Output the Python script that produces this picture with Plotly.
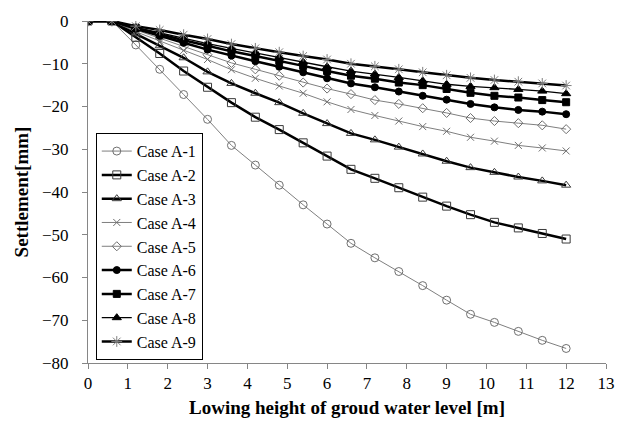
import plotly.graph_objects as go

x_vals = [0, 0.6, 1.2, 1.8, 2.4, 3.0, 3.6, 4.2, 4.8, 5.4, 6.0, 6.6, 7.2, 7.8, 8.4, 9.0, 9.6, 10.2, 10.8, 11.4, 12.0]

case_a1 = [0, 0, -5.6, -11.3, -17.2, -23.0, -29.1, -33.7, -38.4, -43.0, -47.5, -52.0, -55.4, -58.6, -61.9, -65.3, -68.6, -70.5, -72.6, -74.7, -76.6]
case_a2 = [0, 0, -3.8, -7.6, -11.7, -15.5, -19.1, -22.5, -25.4, -28.5, -31.6, -34.7, -36.8, -39.0, -41.2, -43.3, -45.3, -47.1, -48.4, -49.7, -51.0]
case_a3 = [0, 0, -3.0, -5.8, -8.6, -11.9, -14.6, -16.9, -19.1, -21.6, -24.0, -26.3, -27.8, -29.5, -31.1, -32.8, -34.3, -35.4, -36.5, -37.4, -38.4]
case_a4 = [0, 0, -2.5, -4.7, -6.9, -9.0, -11.4, -13.4, -15.2, -16.9, -18.9, -20.7, -22.1, -23.4, -24.7, -25.8, -27.2, -28.1, -29.1, -29.7, -30.4]
case_a5 = [0, 0, -2.1, -4.0, -6.0, -7.9, -9.8, -11.3, -12.8, -14.4, -15.8, -17.1, -18.5, -19.4, -20.4, -21.5, -22.7, -23.4, -23.9, -24.4, -25.3]
case_a6 = [0, 0, -1.8, -3.5, -5.1, -6.7, -8.1, -9.4, -10.7, -12.0, -13.4, -14.6, -15.5, -16.5, -17.5, -18.4, -19.4, -20.2, -20.8, -21.2, -21.8]
case_a7 = [0, 0, -1.6, -3.1, -4.5, -5.8, -7.1, -8.2, -9.3, -10.5, -11.7, -12.8, -13.5, -14.4, -15.0, -15.9, -16.8, -17.5, -17.9, -18.5, -19.0]
case_a8 = [0, 0, -1.5, -2.8, -4.1, -5.3, -6.4, -7.5, -8.5, -9.6, -10.7, -11.7, -12.4, -13.2, -14.0, -14.8, -15.3, -15.6, -16.0, -16.4, -17.0]
case_a9 = [0, 0, -1.2, -2.1, -3.2, -4.2, -5.4, -6.4, -7.3, -8.2, -9.0, -10.0, -10.6, -11.3, -12.0, -12.7, -13.3, -13.8, -14.2, -14.6, -15.1]

names = ["Case A-1", "Case A-2", "Case A-3", "Case A-4", "Case A-5", "Case A-6", "Case A-7", "Case A-8", "Case A-9"]
series = [case_a1, case_a2, case_a3, case_a4, case_a5, case_a6, case_a7, case_a8, case_a9]

styles = [
    dict(lc="#7f7f7f", lw=1, sym="circle-open", mc="#6f6f6f", ms=8),
    dict(lc="#000000", lw=2.5, sym="square-open", mc="#3a3a3a", ms=8),
    dict(lc="#000000", lw=2.5, sym="triangle-up-open", mc="#3a3a3a", ms=8),
    dict(lc="#7f7f7f", lw=1, sym="x-thin-open", mc="#6f6f6f", ms=7),
    dict(lc="#7f7f7f", lw=1, sym="diamond-open", mc="#6f6f6f", ms=7),
    dict(lc="#000000", lw=2.5, sym="circle", mc="#000000", ms=7),
    dict(lc="#000000", lw=2.5, sym="square", mc="#000000", ms=7),
    dict(lc="#000000", lw=1.3, sym="triangle-up", mc="#000000", ms=8),
    dict(lc="#000000", lw=2.5, sym="asterisk-open", mc="#7f7f7f", ms=9),
]

fig = go.Figure()
for name, ys, st in zip(names, series, styles):
    fig.add_trace(go.Scatter(
        x=x_vals, y=ys, name=name, mode="lines+markers",
        line=dict(color=st["lc"], width=st["lw"]),
        marker=dict(symbol=st["sym"], color=st["mc"], size=st["ms"],
                    line=dict(color=st["mc"], width=1)),
    ))

font_family = "Liberation Serif, Times New Roman, serif"
fig.update_layout(
    width=627, height=433,
    margin=dict(l=88, r=19, t=18, b=70),
    paper_bgcolor="white", plot_bgcolor="white",
    font=dict(family=font_family, size=17, color="black"),
    showlegend=True,
    legend=dict(
        x=0.015, y=0.672, xanchor="left", yanchor="top",
        bgcolor="white", bordercolor="black", borderwidth=1,
        font=dict(family=font_family, size=16, color="black"),
        itemwidth=30, tracegroupgap=0,
    ),
    xaxis=dict(
        range=[0, 13], dtick=1, tick0=0,
        showgrid=False, zeroline=False,
        showline=True, linecolor="#868686", linewidth=1,
        ticks="outside", ticklen=5, tickcolor="#868686",
        tickfont=dict(family=font_family, size=17),
        title=dict(text="<b>Lowing height of groud water level [m]</b>",
                   font=dict(family=font_family, size=19), standoff=8),
    ),
    yaxis=dict(
        range=[-80, 0], dtick=10,
        showgrid=False, zeroline=False,
        showline=True, linecolor="#868686", linewidth=1,
        ticks="outside", ticklen=5, tickcolor="#868686",
        tickfont=dict(family=font_family, size=17),
        ticklabelstandoff=10,
        title=dict(text="<b>Settlement[mm]</b>",
                   font=dict(family=font_family, size=19), standoff=8),
    ),
)

fig.write_html("out.html")
